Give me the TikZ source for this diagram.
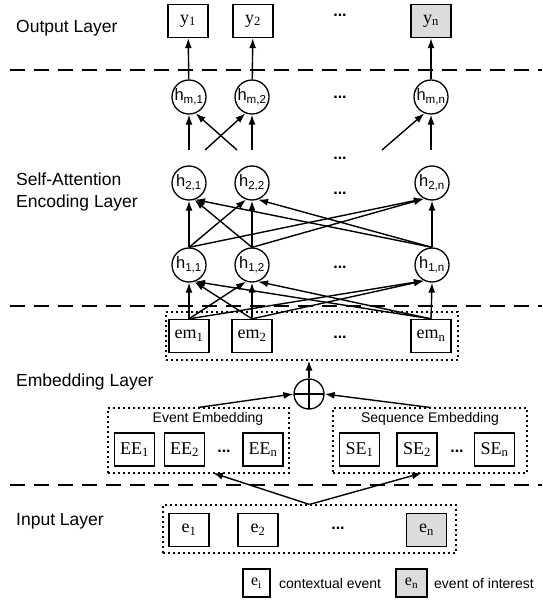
\documentclass[tikz,border=0pt]{standalone}
\usepackage{fontspec}
\setmainfont{Liberation Serif}
\setsansfont{Liberation Sans}
\usetikzlibrary{arrows.meta}
\definecolor{boxgray}{HTML}{DCDCDC}
\begin{document}
\begin{tikzpicture}[x=1pt,y=-1pt,
  sbox/.style={draw,line width=1.3pt,minimum width=40pt,minimum height=33pt,inner sep=0pt,font=\fontsize{18}{20}\selectfont\rmfamily},
  gbox/.style={sbox,fill=boxgray},
  hc/.style={draw,circle,line width=1.3pt,minimum size=34pt,inner sep=0pt,font=\fontsize{16.5}{18}\selectfont\sffamily},
  arr/.style={line width=1.4pt,-{Latex[length=10pt,width=7pt]}},
  layerline/.style={line width=1.5pt,dash pattern=on 15pt off 9pt},
  dotbox/.style={draw,line width=1.1pt,dash pattern=on 2pt off 3pt,inner sep=0pt},
  dots/.style={font=\fontsize{16}{18}\selectfont\sffamily\bfseries,inner sep=0pt},
  layerlabel/.style={anchor=west,align=left,inner sep=0pt,font=\fontsize{17.5}{22}\selectfont\sffamily},
  sublabel/.style={inner sep=0pt,font=\fontsize{14}{16}\selectfont\sffamily},
]
\useasboundingbox (0,0) rectangle (542,601);

% layer labels
\node[layerlabel] (lout) at (16,28) {Output Layer};
\node[layerlabel] (lsa) at (16,192) {Self-Attention\\Encoding Layer};
\node[layerlabel] (lemb) at (16,382) {Embedding Layer};
\node[layerlabel] (lin) at (16,521) {Input Layer};

% separators
\coordinate (s1a) at (10,70);  \coordinate (s1b) at (542,70);
\coordinate (s2a) at (10,306); \coordinate (s2b) at (542,306);
\coordinate (s3a) at (10,485); \coordinate (s3b) at (542,485);
\draw[layerline] (s1a) -- (s1b);
\draw[layerline] (s2a) -- (s2b);
\draw[layerline] (s3a) -- (s3b);

% output layer
\node[sbox] (y1) at (188,21) {y\textsubscript{1}};
\node[sbox] (y2) at (253,21) {y\textsubscript{2}};
\node[dots] (yd) at (340,15) {...};
\node[gbox] (yn) at (431,21) {y\textsubscript{n}};

% h_m
\node[hc] (hm1) at (189,97) {h\textsubscript{m,1}};
\node[hc] (hm2) at (252,97) {h\textsubscript{m,2}};
\node[dots] (hmd) at (340,97) {...};
\node[hc] (hmn) at (431,97) {h\textsubscript{m,n}};
\node[dots] (vd) at (340,158) {...};

\draw[arr] (hm1) -- (y1);
\draw[arr] (hm2) -- (y2);
\draw[arr] (hmn) -- (yn);

\coordinate (c1) at (189,150);
\coordinate (c2) at (237,150);
\coordinate (c3) at (205,150);
\coordinate (c4) at (252,150);
\coordinate (c5) at (382,150);
\coordinate (c6) at (431,150);
\draw[arr] (c1) -- (hm1.south);
\draw[arr] (c2) -- (hm1.-68);
\draw[arr] (c3) -- (hm2.-112);
\draw[arr] (c4) -- (hm2.south);
\draw[arr] (c5) -- (hmn.-112);
\draw[arr] (c6) -- (hmn.south);

% h2
\node[hc] (h21) at (189,183) {h\textsubscript{2,1}};
\node[hc] (h22) at (252,183) {h\textsubscript{2,2}};
\node[dots] (h2d) at (340,193) {...};
\node[hc] (h2n) at (432,183) {h\textsubscript{2,n}};

% h1
\node[hc] (h11) at (189,265) {h\textsubscript{1,1}};
\node[hc] (h12) at (252,265) {h\textsubscript{1,2}};
\node[dots] (h1d) at (340,267) {...};
\node[hc] (h1n) at (432,265) {h\textsubscript{1,n}};

\draw[arr] (h11.north) -- (h21.south);
\draw[arr] (h11.north) -- (h22.-110);
\draw[arr] (h11.north) -- (h2n.-117);
\draw[arr] (h12.north) -- (h21.-72);
\draw[arr] (h12.north) -- (h22.south);
\draw[arr] (h12.north) -- (h2n.-117);
\draw[arr] (h1n.north) -- (h21.-70);
\draw[arr] (h1n.north) -- (h22.-70);
\draw[arr] (h1n.north) -- (h2n.south);

% embedding
\node[dotbox,minimum width=292pt,minimum height=48pt] (emb) at (312,336) {};
\node[sbox] (em1) at (189,336) {em\textsubscript{1}};
\node[sbox] (em2) at (252,336) {em\textsubscript{2}};
\node[dots] (emd) at (340,337) {...};
\node[sbox] (emn) at (431,336) {em\textsubscript{n}};

\draw[arr] (em1.north) -- (h11.south);
\draw[arr] (em1.north) -- (h12.-110);
\draw[arr] (em1.north) -- (h1n.-117);
\draw[arr] (em2.north) -- (h11.-72);
\draw[arr] (em2.north) -- (h12.south);
\draw[arr] (em2.north) -- (h1n.-117);
\draw[arr] (emn.north) -- (h11.-70);
\draw[arr] (emn.north) -- (h12.-70);
\draw[arr] (emn.north) -- (h1n.south);

\node[draw,circle,line width=1.3pt,minimum size=30pt,inner sep=0pt,
  path picture={\draw[line width=1.3pt] (path picture bounding box.north) -- (path picture bounding box.south)
  (path picture bounding box.west) -- (path picture bounding box.east);}] (op) at (309,394) {};
\draw[arr] (op.north) -- (op |- emb.south);

\node[dotbox,minimum width=181pt,minimum height=65pt] (eeb) at (198.5,440.5) {};
\node[sublabel] (eel) at (208,419) {Event Embedding};
\node[sbox] (ee1) at (134.5,449.5) {EE\textsubscript{1}};
\node[sbox] (ee2) at (184.5,449.5) {EE\textsubscript{2}};
\node[dots] (eed) at (224,451) {...};
\node[sbox] (een) at (263,449.5) {EE\textsubscript{n}};

\node[dotbox,minimum width=194pt,minimum height=65pt] (seb) at (430,440.5) {};
\node[sublabel] (sel) at (430,419) {Sequence Embedding};
\node[sbox] (se1) at (359.5,449.5) {SE\textsubscript{1}};
\node[sbox] (se2) at (417,449.5) {SE\textsubscript{2}};
\node[dots] (sed) at (457,451) {...};
\node[sbox] (sen) at (494.5,449.5) {SE\textsubscript{n}};

\draw[arr] (eeb.north) -- (op.west);
\draw[arr] (seb.north) -- (op.east);

% input
\node[dotbox,minimum width=293pt,minimum height=48pt] (inb) at (309.5,529) {};
\node[sbox] (e1) at (189,530) {e\textsubscript{1}};
\node[sbox] (e2) at (258,530) {e\textsubscript{2}};
\node[dots] (ed) at (338,528) {...};
\node[gbox] (en) at (426.5,530) {e\textsubscript{n}};

\coordinate (eein) at (213,473);
\coordinate (sein) at (422,473);
\draw[arr] (inb.north) -- (eein);
\draw[arr] (inb.north) -- (sein);

% legend
\node[sbox,minimum width=27pt,minimum height=28pt,font=\fontsize{16}{18}\selectfont\rmfamily] (lg1) at (256.5,583) {e\textsubscript{i}};
\node[sublabel,anchor=west] (lt1) at (279,583) {contextual event};
\node[gbox,minimum width=31pt,minimum height=28pt,font=\fontsize{16}{18}\selectfont\rmfamily] (lg2) at (411.5,583) {e\textsubscript{n}};
\node[sublabel,anchor=west] (lt2) at (434,583) {event of interest};
\end{tikzpicture}
\end{document}
